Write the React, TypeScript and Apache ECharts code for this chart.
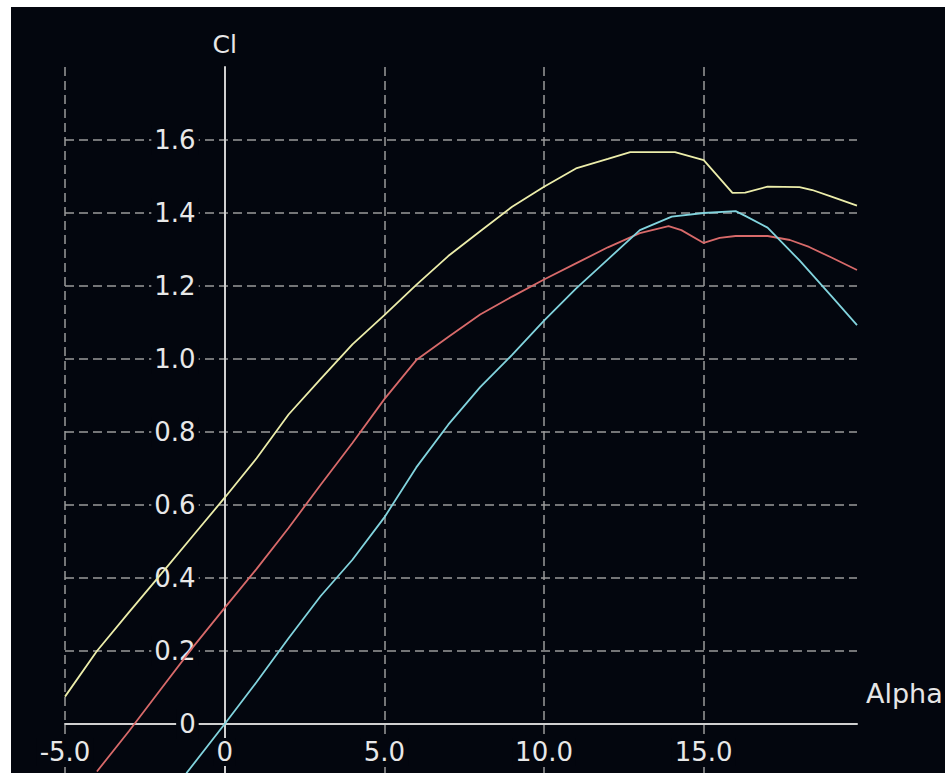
import React, { useEffect, useRef } from "react";
import * as echarts from "echarts";

const alphaYellow = [-5, -4, -3, -2, -1, 0, 1, 2, 3, 4, 5, 6, 7, 8, 9, 10, 11, 12, 12.7, 14.1, 15, 15.9, 16.3, 17, 18, 18.4, 19, 19.8];
const clYellow = [0.075, 0.2, 0.306, 0.41, 0.515, 0.62, 0.728, 0.848, 0.945, 1.04, 1.12, 1.203, 1.282, 1.35, 1.417, 1.472, 1.522, 1.548, 1.567, 1.567, 1.545, 1.455, 1.456, 1.472, 1.471, 1.463, 1.445, 1.42];

const alphaRed = [-4, -3, -2, -1, 0, 1, 2, 3, 4, 5, 6, 7, 8, 9, 10, 11, 12, 13, 13.9, 14.3, 15, 15.5, 16, 17, 17.7, 18.3, 19, 19.8];
const clRed = [-0.13, -0.02, 0.095, 0.21, 0.318, 0.425, 0.537, 0.655, 0.77, 0.89, 0.997, 1.06, 1.122, 1.171, 1.218, 1.262, 1.306, 1.345, 1.364, 1.353, 1.318, 1.332, 1.337, 1.337, 1.326, 1.307, 1.278, 1.244];

const alphaCyan = [-1.2, 0, 1, 2, 3, 4, 5, 6, 7, 8, 9, 10, 11, 12, 13, 14, 15, 16, 16.3, 17, 18, 19, 19.8];
const clCyan = [-0.135, 0, 0.115, 0.235, 0.35, 0.45, 0.566, 0.703, 0.82, 0.923, 1.011, 1.105, 1.193, 1.273, 1.353, 1.39, 1.4, 1.405, 1.392, 1.36, 1.27, 1.172, 1.093];

const seriesColors = ["#ecedaa", "#d86a6a", "#82d4de"];
const BG = "#03060e";

const X_MIN = -5;
const X_MAX = 19.8;
const Y_MIN = -0.2;
const Y_MAX = 1.8;

const pairs = (xs: number[], ys: number[]) => xs.map((x, i) => [x, ys[i]]);
const fmt = (v: number) => (Math.abs(v) < 1e-9 ? "0" : v.toFixed(1));

const W = 934;
const H = 790;
const GRID = { left: 54, right: 88, top: 60, bottom: 0 };

export default function App() {
  const ref = useRef<HTMLDivElement>(null);
  useEffect(() => {
    if (!ref.current) return;
    const chart = echarts.init(ref.current, undefined, { renderer: "svg" });
    const font = "Verdana, 'DejaVu Sans', sans-serif";
    const gw = W - GRID.left - GRID.right;
    const gh = H - GRID.top - GRID.bottom;
    // place each axis line at the other axis' zero
    const yAxisOffset = -((0 - X_MIN) / (X_MAX - X_MIN)) * gw;
    const xAxisOffset = -((0 - Y_MIN) / (Y_MAX - Y_MIN)) * gh;
    const gridLine = { color: "#9a9a9a", type: [9, 5], width: 1.5 };
    chart.setOption({
      animation: false,
      backgroundColor: BG,
      grid: { ...GRID, outerBoundsMode: "none", containLabel: false },
      xAxis: {
        type: "value",
        min: X_MIN,
        max: X_MAX,
        interval: 5,
        position: "bottom",
        offset: xAxisOffset,
        name: "Alpha",
        nameLocation: "end",
        nameGap: 9,
        nameTextStyle: {
          color: "#e6e6e6",
          fontFamily: font,
          fontSize: 27,
          verticalAlign: "bottom",
          padding: [0, 0, 17, 0],
        },
        axisLine: { onZero: false, lineStyle: { color: "#d0d0d0", width: 2 } },
        axisTick: { show: false },
        axisLabel: {
          color: "#e8e8e8",
          fontFamily: font,
          fontSize: 26,
          margin: 14,
          formatter: fmt,
          showMaxLabel: false,
          backgroundColor: BG,
          padding: [1, 3],
        },
        splitLine: { show: true, showMaxLine: false, lineStyle: gridLine },
      },
      yAxis: {
        type: "value",
        min: Y_MIN,
        max: Y_MAX,
        interval: 0.2,
        position: "left",
        offset: yAxisOffset,
        name: "Cl",
        nameLocation: "end",
        nameGap: 10,
        nameTextStyle: { color: "#e8e8e8", fontFamily: font, fontSize: 25 },
        axisLine: { onZero: false, lineStyle: { color: "#d0d0d0", width: 2 } },
        axisTick: { show: false },
        axisLabel: {
          color: "#e8e8e8",
          fontFamily: font,
          fontSize: 26,
          margin: 26,
          formatter: fmt,
          showMaxLabel: false,
          showMinLabel: false,
          backgroundColor: BG,
          padding: [2, 3],
        },
        splitLine: { show: true, showMaxLine: false, lineStyle: gridLine },
      },
      series: [
        { name: "yellow", data: pairs(alphaYellow, clYellow), color: seriesColors[0] },
        { name: "red", data: pairs(alphaRed, clRed), color: seriesColors[1] },
        { name: "cyan", data: pairs(alphaCyan, clCyan), color: seriesColors[2] },
      ].map((s) => ({
        type: "line",
        name: s.name,
        data: s.data,
        showSymbol: false,
        symbol: "none",
        lineStyle: { color: s.color, width: 1.8 },
        itemStyle: { color: s.color },
      })),
    });
    return () => chart.dispose();
  }, []);
  return (
    <div
      style={{
        position: "absolute",
        left: 11,
        top: 7,
        width: W,
        height: 766,
        overflow: "hidden",
        background: BG,
      }}
    >
      <div ref={ref} style={{ width: W, height: H }} />
    </div>
  );
}
